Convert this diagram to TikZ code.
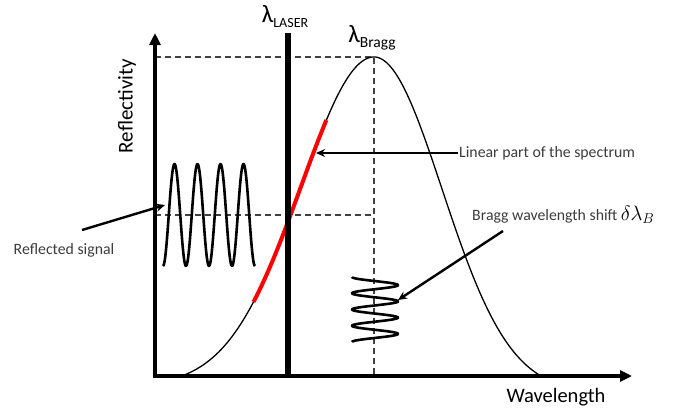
\documentclass[tikz,border=0pt]{standalone}
\usepackage{fontspec}
\setmainfont{Carlito}
\usetikzlibrary{arrows.meta,positioning}
\definecolor{labelgray}{RGB}{60,60,60}

\begin{document}
\begin{tikzpicture}[x=1pt, y=-1pt,
  axis/.style={line width=3.5pt,-{Triangle[length=12pt,width=11pt]}},
  guide/.style={line width=1.4pt,dash pattern=on 6pt off 4pt,black!75},
  note/.style={font=\fontsize{15.8}{17}\selectfont,text=labelgray,inner sep=1pt},
  pointer/.style={line width=2.4pt,-{Stealth[length=9pt,width=8pt]}},
  wave/.style={line width=2.6pt,line join=round},
  spectrum/.style={line width=1.3pt}]
  \useasboundingbox (0,0) rectangle (684,410);

  % axes and key points
  \coordinate (O) at (155,376);
  \coordinate (ytop) at (155,33);
  \coordinate (xend) at (632,376);
  \coordinate (peak) at (374,57);
  \coordinate (peakfoot) at (374,376);
  \coordinate (lasertop) at (288,33);
  \coordinate (laserbot) at (288,376);

  % guide lines
  \draw[guide] (ytop |- peak) -- (peak) -- (peakfoot);
  \draw[guide] (155,215) -- (374,215);

  % Bragg spectrum
  \draw[spectrum] plot[domain=182:374,samples=90,smooth] (\x,{376-319*(exp(-0.5*((\x-374)/73)^2)-0.031)/0.969})
    -- plot[domain=374:541,samples=90,smooth] (\x,{376-319*(exp(-0.5*((\x-374)/68)^2)-0.049)/0.951});
  \draw[red,line width=4pt] plot[domain=253.5:326.4,samples=30,smooth] (\x,{376-319*(exp(-0.5*((\x-374)/73)^2)-0.031)/0.969});

  % laser line
  \draw[line width=6pt] (lasertop) -- (laserbot);
  \node[font=\fontsize{25}{25}\selectfont,inner sep=0pt] (laser) at (285,17) {λ\raisebox{-5pt}{\fontsize{14}{14}\selectfont LASER}};
  \node[font=\fontsize{25}{25}\selectfont,inner sep=0pt] (bragg) at (372,38) {λ\raisebox{-5pt}{\fontsize{15.5}{15}\selectfont Bragg}};

  % axes
  \draw[axis] ([yshift=1.75pt]O) -- (ytop);
  \draw[axis] ([xshift=-1.75pt]O) -- (xend);
  \node[rotate=90,font=\fontsize{21}{22}\selectfont] (ylabel) at (127,106) {Reflectivity};
  \node[font=\fontsize{20.5}{22}\selectfont] (xlabel) at (556,397) {Wavelength};

  % reflected signal
  \draw[wave] plot[domain=0:4,samples=160,smooth] ({163+23*\x},{215+51*cos(360*\x)});
  \node[note] (refl) at (64,250) {Reflected signal};
  \coordinate (reflend) at (165,205);
  \draw[pointer] (82,230) -- (reflend);

  % linear part
  \node[note,anchor=west] (linear) at (458,153) {Linear part of the spectrum};
  \coordinate (linend) at (316,153);
  \draw[pointer] (linear.west) -- (linend);

  % shift signal
  \draw[wave] plot[domain=0:4,samples=160,smooth] ({375-23*cos(360*\x)},{277+16.25*\x});
  \node[note,anchor=west] (shift) at (471,215) {Bragg wavelength shift{\color{black}\fontsize{20.74}{22}\selectfont$\,\delta\lambda_B$}};
  \coordinate (shiftend) at (398,300);
  \draw[pointer] (503,231) -- (shiftend);
\end{tikzpicture}
\end{document}
